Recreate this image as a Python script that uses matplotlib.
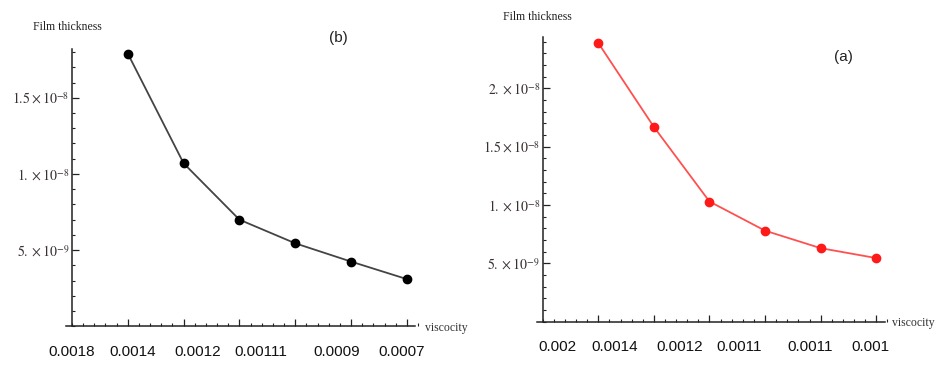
import matplotlib
matplotlib.use("Agg")
import matplotlib.pyplot as plt
from matplotlib.ticker import MultipleLocator, FixedLocator

plt.rcParams['mathtext.fontset'] = 'stix'

# ---- data ----
points = [1, 2, 3, 4, 5, 6]
thickness_b = [17.9e-9, 10.7e-9, 7.0e-9, 5.45e-9, 4.25e-9, 3.1e-9]
thickness_a = [23.9e-9, 16.7e-9, 10.3e-9, 7.8e-9, 6.3e-9, 5.45e-9]

xlabels_b = ["0.0018", "0.0014", "0.0012", "0.00111", "0.0009", "0.0007"]
xlabels_a = ["0.002", "0.0014", "0.0012", "0.0011", "0.0011", "0.001"]
xlabel_pos_b = [0.0, 1.09, 2.26, 3.39, 4.75, 5.91]
xlabel_pos_a = [0.26, 1.30, 2.47, 3.54, 4.81, 5.89]

yticks_b = [5e-9, 1e-8, 1.5e-8]
yticklabels_b = [r"$5.\times10^{-9}$", r"$1.\times10^{-8}$", r"$1.5\times10^{-8}$"]
yticks_a = [5e-9, 1e-8, 1.5e-8, 2e-8]
yticklabels_a = [r"$5.\times10^{-9}$", r"$1.\times10^{-8}$", r"$1.5\times10^{-8}$", r"$2.\times10^{-8}$"]

fig = plt.figure(figsize=(9.41, 3.65), dpi=100)

def style(ax, xlim, ylim, ytop, yticks, ylabels, xlabs, xpos):
    ax.set_xlim(*xlim)
    ax.set_ylim(*ylim)
    for s in ['top', 'right']:
        ax.spines[s].set_visible(False)
    ax.spines['left'].set_position(('data', 0))
    ax.spines['bottom'].set_position(('data', 0))
    ax.spines['left'].set_bounds(0, ytop)
    ax.spines['bottom'].set_bounds(xlim[0] + 0.02, xlim[1] - 0.05)
    ax.spines['left'].set_linewidth(1.1)
    ax.spines['bottom'].set_linewidth(1.1)
    ax.spines['left'].set_color('#222222')
    ax.spines['bottom'].set_color('#222222')
    ax.xaxis.set_major_locator(FixedLocator(points))
    ax.xaxis.set_minor_locator(MultipleLocator(0.2))
    ax.set_xticklabels([])
    ax.yaxis.set_major_locator(FixedLocator(yticks))
    ax.yaxis.set_minor_locator(MultipleLocator(1e-9))
    ax.set_yticklabels(ylabels, fontsize=10, color='#3a3030')
    ax.tick_params(axis='both', which='major', direction='in', length=5, width=0.9,
                   color='#222222')
    ax.tick_params(axis='both', which='minor', direction='in', length=2.5, width=0.8,
                   color='#222222')
    ax.tick_params(axis='y', which='major', pad=2)
    for p, lab in zip(xpos, xlabs):
        ax.text(p, -0.075, lab, transform=ax.get_xaxis_transform(),
                ha='center', va='center', fontsize=11, family='Liberation Sans',
                color='#111111')
    ax.patch.set_visible(False)

# Left panel (b)
axb = fig.add_axes([0.0694, 0.0934, 0.3748, 0.7723])
axb.plot(points, thickness_b, color='#444444', lw=1.3, marker='o',
         ms=6, mfc='black', mec='black', clip_on=False)
style(axb, (-0.12, 6.2), (-0.3e-9, 18.2e-9), 18.2e-9, yticks_b, yticklabels_b,
      xlabels_b, xlabel_pos_b)

# Right panel (a)
axa = fig.add_axes([0.5696, 0.1093, 0.3734, 0.789])
axa.plot(points, thickness_a, color='#ff5050', lw=1.3, marker='o',
         ms=6, mfc='#ff1a1a', mec='#ff1a1a', clip_on=False)
style(axa, (-0.12, 6.2), (-0.3e-9, 24.4e-9), 24.4e-9, yticks_a, yticklabels_a,
      xlabels_a, xlabel_pos_a)

# Annotations in figure pixel coordinates
def ftext(x, y, s, **kw):
    fig.text(x / 941, 1 - y / 365, s, **kw)

ftext(33, 27, "Film thickness", ha='left', va='center', fontsize=8.5,
      family='Liberation Serif', color='#222222')
ftext(503, 17, "Film thickness", ha='left', va='center', fontsize=8.5,
      family='Liberation Serif', color='#222222')
ftext(425, 328, "viscocity", ha='left', va='center', fontsize=8.5,
      family='Liberation Serif', color='#333333')
ftext(892, 323, "viscocity", ha='left', va='center', fontsize=8.5,
      family='Liberation Serif', color='#333333')
ftext(338, 38, "(b)", ha='center', va='center', fontsize=11,
      family='Liberation Sans', color='#222222')
ftext(843, 57, "(a)", ha='center', va='center', fontsize=11,
      family='Liberation Sans', color='#222222')

fig.savefig("out.png", dpi=100)
